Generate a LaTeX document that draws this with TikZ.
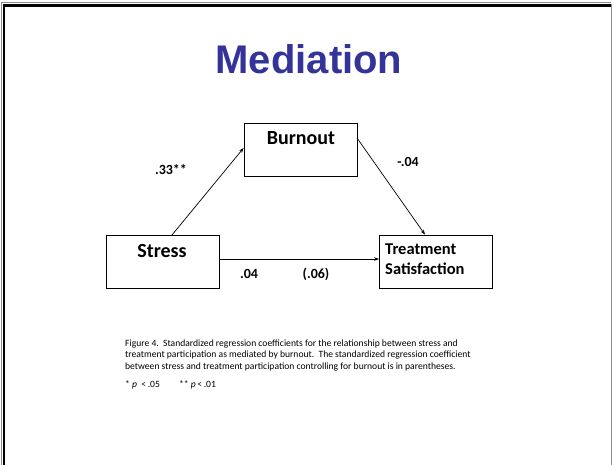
\documentclass[tikz,border=0pt]{standalone}
\usepackage{fontspec}
\setmainfont{Carlito}
\newfontfamily\titlefont{Liberation Sans}
\usetikzlibrary{arrows.meta}
\definecolor{titleblue}{HTML}{333399}
\definecolor{framegray}{HTML}{8C8C8C}
\tikzset{
  varbox/.style={draw=black, line width=0.8pt, minimum width=113pt, minimum height=53pt, inner sep=0pt},
  path/.style={draw=black, line width=0.7pt, -{Stealth[length=5pt,width=3.6pt]}},
  coef/.style={font=\fontsize{14}{16}\selectfont\bfseries, inner sep=0pt, anchor=base},
  varlabel/.style={font=\fontsize{20}{22}\selectfont\bfseries, inner sep=0pt, anchor=base},
  outlabel/.style={font=\fontsize{16.5}{20}\selectfont\bfseries, inner sep=0pt, anchor=base west},
  caption/.style={font=\fontsize{9.6}{11.4}\selectfont, inner sep=0pt, anchor=base west},
}
\begin{document}
\begin{tikzpicture}[x=1pt, y=-1pt]
  \useasboundingbox (0,0) rectangle (612,465);
  \fill[white] (0,0) rectangle (612,465);
  % slide frame
  \draw[framegray, line width=1pt] (1.5,470) -- (1.5,3) -- (611,3);
  \draw[black, line width=2.8pt] (4,470) -- (4,5.4) -- (611,5.4);
  \draw[framegray, line width=1.2pt] (611.4,4) -- (611.4,470);

  % title
  \node[font=\titlefont\fontsize{40}{44}\selectfont\bfseries, text=titleblue, inner sep=0pt, anchor=base] (title) at (309,74) {Mediation};

  % variables
  \node[varbox] (burnout) at (300.5,149.5) {};
  \node[varbox] (stress) at (163,261.5) {};
  \node[varbox] (outcome) at (436,261.5) {};
  \node[varlabel] (burnoutlbl) at (301,145) {Burnout};
  \node[varlabel] (stresslbl) at (162,257) {Stress};
  \node[outlabel] (outcomelbl) at (385,254) {Treatment};
  \node[outlabel] (outcomelbl2) at (385,274) {Satisfaction};

  % paths
  \coordinate (a0) at (172,235);
  \coordinate (b0) at (357,138);
  \coordinate (c1) at (379,259);
  \draw[path] (a0) -- (burnout.west |- 0,148) ;
  \draw[path] (b0) -- (425,234.6);
  \draw[path] (stress.east |- c1) -- (outcome.west |- c1);

  % coefficients
  \node[coef] (ca) at (171,175) {.33**};
  \node[coef] (cb) at (408,167) {-.04};
  \node[coef] (cc) at (249,278) {.04};
  \node[coef] (cc2) at (316,278) {(.06)};

  % figure note
  \node[caption] (note1) at (125,346.5) {Figure 4.\ \ Standardized regression coefficients for the relationship between stress and};
  \node[caption] (note2) at (125,357.8) {treatment participation as mediated by burnout.\ \ The standardized regression coefficient};
  \node[caption] (note3) at (125,369) {between stress and treatment participation controlling for burnout is in parentheses.};
  \node[caption] (sig) at (125,387) {* \textit{p}\ \ <\,.05\qquad** \textit{p}\,<\,.01};
\end{tikzpicture}
\end{document}
